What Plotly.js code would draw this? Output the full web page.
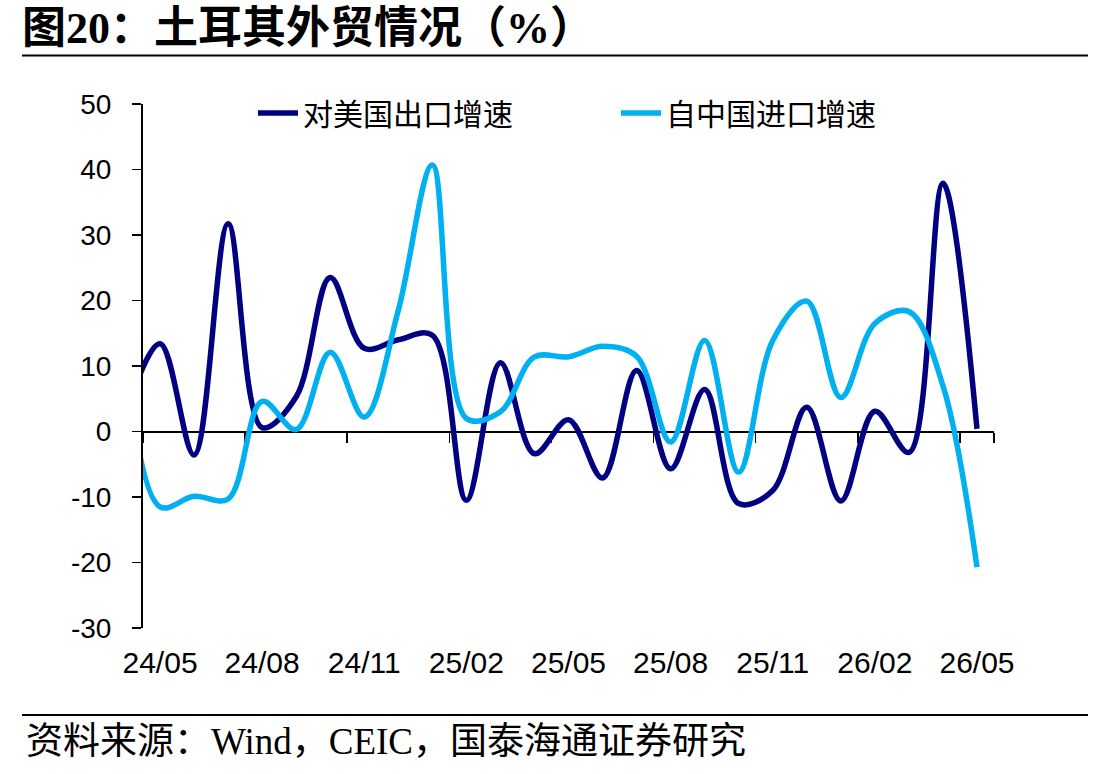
<!DOCTYPE html>
<html>
<head>
<meta charset="utf-8">
<script src="https://cdn.plot.ly/plotly-3.0.1.min.js"></script>
<style>
  html, body { margin: 0; padding: 0; background: #fff; }
  #chart { width: 1107px; height: 774px; }
</style>
</head>
<body>
<div id="chart"></div>
<script>
// Months (first one, 24/04, sits just left of the visible range and is clipped)
const months = ["24/04","24/05","24/06","24/07","24/08","24/09","24/10","24/11","24/12",
                "25/01","25/02","25/03","25/04","25/05","25/06","25/07","25/08","25/09",
                "25/10","25/11","25/12","26/01","26/02","26/03","26/04","26/05"];
// 对美国出口增速 (%)
const exportToUS = [3.0, 13.4, -3.6, 31.7, 0.6, 5.3, 23.5, 12.7, 14.0, 14.7, -10.5, 10.5, -3.4,
                    1.8, -7.1, 9.3, -5.7, 6.4, -11.0, -9.0, 3.7, -10.6, 3.1, -3.2, 37.9, 0.4];
// 自中国进口增速 (%)
const importFromChina = [12.0, -11.5, -9.9, -10.3, 4.6, 0.3, 12.1, 2.2, 18.5, 40.7, 2.0, 3.0, 11.4,
                         11.4, 13.0, 11.5, -1.6, 13.9, -6.2, 13.9, 19.9, 5.2, 16.5, 18.3, 7.0, -20.7];
// Tick labels
const tickLabels = ["24/05","24/08","24/11","25/02","25/05","25/08","25/11","26/02","26/05"];
const yTickVals = [-30, -20, -10, 0, 10, 20, 30, 40, 50];
const yTickText = ["-30", "-20", "-10", "0", "10", "20", "30", "40", "50"];
const seriesNames = ["对美国出口增速", "自中国进口增速"];
const titleText = "图20：土耳其外贸情况（%）";
const sourceText = "资料来源：Wind，CEIC，国泰海通证券研究";

const cjk = "Noto Sans CJK SC";
const traces = [
  { x: months, y: exportToUS, name: seriesNames[0], type: "scatter", mode: "lines",
    line: { color: "#000080", width: 5.5, shape: "spline", smoothing: 1 } },
  { x: months, y: importFromChina, name: seriesNames[1], type: "scatter", mode: "lines",
    line: { color: "#00B0F0", width: 5.5, shape: "spline", smoothing: 1 } }
];

const layout = {
  width: 1107, height: 774,
  margin: { l: 143, r: 113, t: 104, b: 146 },
  paper_bgcolor: "#ffffff", plot_bgcolor: "#ffffff",
  showlegend: true,
  title: {
    text: "<b>" + titleText + "</b>",
    xref: "container", yref: "container",
    x: 22 / 1107, xanchor: "left",
    y: 1 - 28 / 774, yanchor: "middle",
    font: { family: "Liberation Serif, " + cjk, size: 44, color: "#000" }
  },
  xaxis: {
    type: "category",
    range: [0.5, 25.5],
    anchor: "free", position: 0.375,
    showline: true, linecolor: "#000", linewidth: 2,
    showgrid: false, zeroline: false,
    tickmode: "array", tickvals: tickLabels, ticktext: tickLabels,
    tickson: "boundaries",
    tickangle: 0,
    ticks: "outside", ticklen: 10, tickwidth: 1.5, tickcolor: "#000",
    ticklabelstandoff: 204,
    tickfont: { family: "Liberation Sans, Arial", size: 30, color: "#000" },
    layer: "below traces",
    fixedrange: true
  },
  yaxis: {
    range: [-30, 50],
    tickmode: "array", tickvals: yTickVals, ticktext: yTickText,
    showline: true, linecolor: "#000", linewidth: 2,
    showgrid: false, zeroline: false,
    ticks: "outside", ticklen: 9, tickwidth: 1.5, tickcolor: "#000",
    ticklabelstandoff: 15,
    tickfont: { family: "Liberation Sans, Arial", size: 28, color: "#000" },
    layer: "below traces",
    fixedrange: true
  },
  legend: {
    orientation: "h",
    x: (253 - 143) / 851, xanchor: "left",
    y: (628 - 113) / 524, yanchor: "middle",
    bgcolor: "rgba(0,0,0,0)",
    font: { family: cjk, size: 30, color: "#000" },
    entrywidth: 308, entrywidthmode: "pixels",
    itemwidth: 40
  },
  shapes: [
    { type: "line", xref: "paper", yref: "paper",
      x0: (22 - 143) / 851, x1: (1088 - 143) / 851,
      y0: (628 - 55.5) / 524, y1: (628 - 55.5) / 524,
      line: { color: "#000", width: 2 } },
    { type: "line", xref: "paper", yref: "paper",
      x0: (22 - 143) / 851, x1: (1088 - 143) / 851,
      y0: (628 - 715) / 524, y1: (628 - 715) / 524,
      line: { color: "#000", width: 2 } }
  ],
  annotations: [
    { text: sourceText, xref: "paper", yref: "paper",
      x: (24 - 143) / 851, xanchor: "left",
      y: (628 - 741) / 524, yanchor: "middle",
      showarrow: false,
      font: { family: "Liberation Serif, " + cjk, size: 37, color: "#000" } }
  ]
};

Plotly.newPlot("chart", traces, layout, { staticPlot: true, displayModeBar: false });
</script>
</body>
</html>
